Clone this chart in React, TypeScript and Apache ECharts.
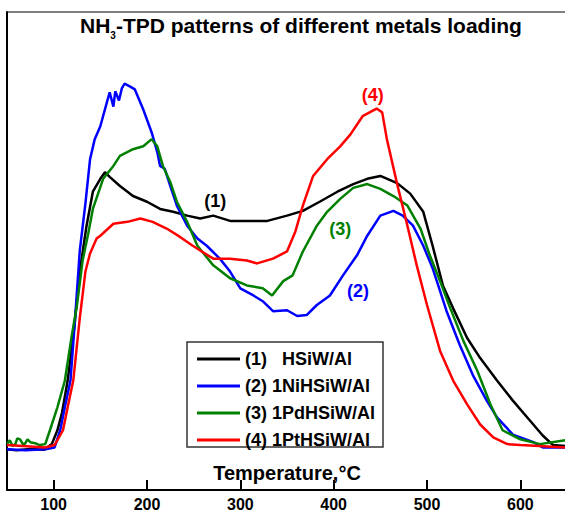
import React, { useEffect, useRef } from "react";
import * as echarts from "echarts";

// Temperature (°C) vs. NH3 desorption signal (a.u., 0-100 scale)
const hsiw: [number, number][] = [
  [50, 8.5], [60, 8.3], [75, 8.6], [90, 8.4], [98, 9.6], [104, 12.5], [109, 16.2], [115, 22.9], [122, 33.9],
  [128, 45.7], [135, 55.0], [142, 62.4], [150, 65.1], [155, 66.5], [160, 65.5], [171, 63.6], [185, 61.5],
  [200, 60.3], [214, 58.8], [228, 58.2], [243, 57.4], [257, 56.8], [271, 57.4], [289, 56.3], [307, 56.3],
  [329, 56.3], [350, 57.4], [367, 58.4], [385, 60.3], [404, 62.4], [421, 64.0], [436, 65.1], [450, 65.7],
  [468, 64.2], [482, 62.0], [496, 58.2], [506, 51.1], [517, 42.8], [528, 38.0], [543, 31.8], [557, 27.6],
  [575, 22.9], [592, 18.7], [610, 14.6], [624, 11.4], [635, 9.4], [648, 9.2],
];
const niHsiw: [number, number][] = [
  [50, 8.5], [70, 8.3], [91, 8.5], [101, 8.9], [107, 12.5], [112, 17.3], [118, 22.9], [123, 36.0], [128, 50.1],
  [134, 59.9], [139, 69.2], [144, 73.4], [150, 76.1], [157, 81.1], [160, 83.2], [164, 80.2], [166, 83.4],
  [170, 81.5], [173, 84.0], [176, 85.0], [182, 84.4], [187, 83.8], [196, 79.6], [205, 74.8], [211, 70.7],
  [214, 67.8], [219, 67.2], [225, 63.6], [232, 59.5], [243, 55.3], [254, 52.6], [264, 51.1], [278, 48.4],
  [289, 45.7], [300, 42.2], [314, 40.7], [324, 39.5], [335, 37.4], [350, 37.6], [361, 36.4], [371, 36.6],
  [382, 38.7], [396, 40.7], [410, 44.9], [425, 49.1], [436, 53.2], [450, 57.4], [464, 58.4], [474, 57.4],
  [485, 55.3], [496, 51.1], [506, 46.4], [521, 37.4], [535, 30.4], [549, 24.1], [564, 18.7], [575, 15.2],
  [592, 11.6], [614, 10.0], [624, 8.9], [648, 8.9],
];
const pdHsiw: [number, number][] = [
  [50, 9.6], [53, 10.4], [56, 9.2], [59, 9.6], [61, 10.8], [64, 10.6], [67, 9.6], [69, 9.6], [72, 10.6],
  [75, 10.0], [80, 9.8], [85, 9.4], [91, 9.6], [96, 12.5], [104, 17.3], [112, 22.9], [119, 31.8], [125, 38.7],
  [131, 48.0], [137, 53.6], [142, 58.8], [153, 65.1], [164, 67.8], [171, 69.9], [185, 71.3], [196, 71.9],
  [205, 73.4], [211, 71.9], [217, 67.8], [225, 64.4], [232, 60.3], [243, 56.1], [254, 51.1], [271, 47.0],
  [289, 44.3], [307, 42.8], [324, 42.2], [334, 40.7], [346, 43.7], [356, 44.9], [367, 49.9], [382, 55.3],
  [393, 58.2], [407, 60.9], [421, 63.2], [436, 64.0], [450, 63.0], [464, 61.5], [479, 59.5], [493, 54.7],
  [503, 49.1], [514, 43.7], [525, 38.0], [539, 31.2], [554, 24.9], [568, 17.9], [581, 12.5], [600, 10.6],
  [621, 9.6], [648, 10.4],
];
const ptHsiw: [number, number][] = [
  [50, 9.4], [75, 9.1], [91, 8.9], [101, 9.4], [110, 12.5], [115, 17.3], [121, 22.9], [128, 36.0], [134, 45.7],
  [139, 49.5], [146, 52.6], [150, 53.2], [164, 55.7], [179, 56.1], [193, 56.8], [206, 56.1], [221, 54.7],
  [235, 53.0], [249, 51.1], [257, 50.1], [271, 48.4], [289, 48.4], [307, 48.0], [318, 47.4], [335, 48.4],
  [350, 49.9], [359, 54.1], [367, 59.5], [378, 65.7], [393, 69.2], [407, 71.9], [418, 74.4], [431, 78.2],
  [446, 79.8], [452, 79.0], [457, 73.4], [468, 64.0], [479, 55.3], [489, 47.0], [500, 38.7], [514, 29.1],
  [528, 22.9], [543, 17.9], [557, 13.7], [571, 11.0], [586, 9.6], [600, 9.4], [620, 9.2], [648, 8.9],
];

const seriesNames = ["(1)   HSiW/Al", "(2) 1NiHSiW/Al", "(3) 1PdHSiW/Al", "(4) 1PtHSiW/Al"];
const seriesColors = ["#000000", "#0000ff", "#008000", "#ff0000"];
const peakLabels = ["(1)", "(2)", "(3)", "(4)"];
const peakLabelAt: [number, number][] = [[273, 60.5], [426, 41.6], [407, 54.7], [442, 82.7]];
const xTicks = [100, 200, 300, 400, 500, 600];
const titleParts = ["NH", "3", "-TPD patterns of different metals loading"];
const xAxisName = "Temperature,°C";

const FONT = "'Liberation Sans', Arial, sans-serif";

export default function App() {
  const ref = useRef<HTMLDivElement>(null);
  useEffect(() => {
    if (!ref.current) return;
    const chart = echarts.init(ref.current, null, { renderer: "svg" });
    const datasets = [hsiw, niHsiw, pdHsiw, ptHsiw];
    chart.setOption({
      animation: false,
      backgroundColor: "#ffffff",
      textStyle: { fontFamily: FONT },
      title: {
        text: `{a|${titleParts[0]}}{s|${titleParts[1]}}{a|${titleParts[2]}}`,
        left: 80,
        top: 10,
        padding: 0,
        textStyle: {
          rich: {
            a: { fontSize: 21, fontWeight: "bold", color: "#000", fontFamily: FONT, lineHeight: 30 },
            s: { fontSize: 10, fontWeight: "bold", color: "#000", fontFamily: FONT, lineHeight: 10, verticalAlign: "bottom" },
          },
        },
      },
      grid: { left: 7, right: 1, top: 12, bottom: 19, show: true, borderColor: "#000", borderWidth: 1 },
      legend: {
        orient: "vertical",
        left: 197,
        top: 350,
        padding: 0,
        itemGap: 9,
        itemWidth: 43,
        itemHeight: 3,
        icon: "rect",
        data: seriesNames,
        textStyle: { fontSize: 18, fontWeight: "bold", color: "#000", lineHeight: 16, fontFamily: FONT },
      },
      graphic: [
        {
          type: "rect",
          shape: { x: 187, y: 342, width: 196, height: 105 },
          style: { fill: "#fff", stroke: "#333", lineWidth: 1.5 },
          z: 0,
        },
      ],
      xAxis: {
        type: "value",
        min: 50,
        max: 650,
        name: xAxisName,
        nameLocation: "middle",
        nameGap: -27,
        nameTextStyle: { fontSize: 20, fontWeight: "bold", color: "#000", fontFamily: FONT },
        axisLine: { show: true, lineStyle: { color: "#000", width: 2 } },
        axisTick: { show: true, inside: true, length: 10, lineStyle: { color: "#000", width: 2 }, customValues: xTicks },
        axisLabel: { fontSize: 16, fontWeight: "bold", color: "#000", margin: 6, customValues: xTicks, fontFamily: FONT },
        splitLine: { show: false },
      },
      yAxis: {
        type: "value",
        min: 0,
        max: 100,
        axisLine: { show: true, lineStyle: { color: "#000", width: 2 } },
        axisTick: { show: false },
        axisLabel: { show: false },
        splitLine: { show: false },
      },
      series: datasets.map((d, i) => ({
        name: seriesNames[i],
        type: "line",
        data: d,
        showSymbol: false,
        symbol: "none",
        color: seriesColors[i],
        lineStyle: { color: seriesColors[i], width: 2.5 },
        z: 3,
        markPoint: {
          symbol: "circle",
          symbolSize: 1,
          itemStyle: { color: "rgba(0,0,0,0)" },
          label: {
            show: true,
            position: "inside",
            formatter: peakLabels[i],
            fontSize: 18,
            fontWeight: "bold",
            color: seriesColors[i],
            fontFamily: FONT,
          },
          data: [{ coord: peakLabelAt[i] }],
        },
      })),
    });
    return () => chart.dispose();
  }, []);
  return (
    <div
      ref={ref}
      style={{ position: "fixed", left: 0, top: 0, width: 568, height: 512, background: "#fff" }}
    />
  );
}
